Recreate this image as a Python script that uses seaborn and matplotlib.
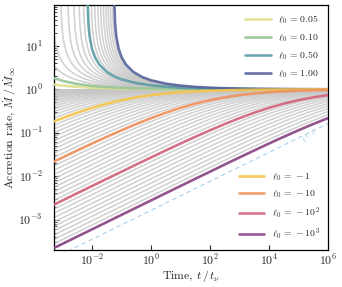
import numpy as np
import pandas as pd
import matplotlib
matplotlib.use("Agg")
import matplotlib.pyplot as plt
import seaborn as sns
from matplotlib.ticker import LogLocator, NullLocator

# ---------------- data ----------------
# common time grid (log10 of t / t_nu)
log_t = [-3.3, -3.0, -2.5, -2.0, -1.5, -1.0, -0.5, 0.0, 0.5, 1.0,
         1.5, 2.0, 2.5, 3.0, 3.5, 4.0, 4.5, 5.0, 5.5, 6.0]

# negative l0 (below 1)
mdot_m1 = [0.181, 0.217, 0.290, 0.375, 0.468, 0.563, 0.654, 0.735, 0.803, 0.857,
           0.898, 0.928, 0.950, 0.965, 0.976, 0.984, 0.989, 0.992, 0.995, 0.996]
mdot_m10 = [0.0216, 0.0270, 0.0392, 0.0565, 0.0808, 0.114, 0.159, 0.217, 0.290, 0.375,
            0.468, 0.563, 0.654, 0.735, 0.803, 0.857, 0.898, 0.928, 0.950, 0.965]
mdot_m100 = [0.00220, 0.00277, 0.00407, 0.00595, 0.00871, 0.0127, 0.0186, 0.0270, 0.0392, 0.0565,
             0.0808, 0.114, 0.159, 0.217, 0.290, 0.375, 0.468, 0.563, 0.654, 0.735]
mdot_m1000 = [0.000221, 0.000278, 0.000408, 0.000598, 0.000878, 0.00129, 0.00189, 0.00277, 0.00407, 0.00595,
              0.00871, 0.0127, 0.0186, 0.0270, 0.0392, 0.0565, 0.0808, 0.114, 0.159, 0.217]

# small positive l0 (slightly above 1)
mdot_p005 = [1.293, 1.220, 1.140, 1.091, 1.060, 1.040, 1.027, 1.018, 1.0124, 1.0084,
             1.0057, 1.0039, 1.0026, 1.0018, 1.0012, 1.0008, 1.0006, 1.0004, 1.0003, 1.0002]
mdot_p010 = [1.829, 1.5625, 1.325, 1.2005, 1.128, 1.084, 1.0557, 1.0373, 1.0251, 1.0170,
             1.0115, 1.0078, 1.0053, 1.0036, 1.0025, 1.0017, 1.0011, 1.0008, 1.0005, 1.0004]

# larger positive l0 (diverge at early time)
log_t_p050 = [-2.16, -2.15, -2.12, -2.08, -2.0, -1.9, -1.75, -1.5, -1.25, -1.0,
              -0.5, 0.0, 0.5, 1.0, 1.5, 2.0, 3.0, 4.0, 5.0, 6.0]
mdot_p050 = [345, 95.5, 30.2, 16.0, 8.47, 5.46, 3.68, 2.505, 1.984, 1.693,
             1.387, 1.2346, 1.1486, 1.0967, 1.0639, 1.0427, 1.0194, 1.0089, 1.0041, 1.0019]
log_t_p100 = [-1.26, -1.25, -1.22, -1.18, -1.1, -1.0, -0.85, -0.6, -0.3, 0.0,
              0.5, 1.0, 1.5, 2.0, 2.5, 3.0, 4.0, 5.0, 6.0]
mdot_p100 = [2000, 122, 32.7, 16.7, 8.61, 5.51, 3.70, 2.514, 1.917, 1.613,
             1.349, 1.214, 1.1366, 1.0892, 1.0591, 1.0395, 1.0180, 1.0083, 1.0038]

# t^{1/3} guide line endpoints
guide_log_t = [-3.3, 6.0]
guide_mdot = [1.3e-4, 0.164]

# background family of l0 values (grey curves)
gray_l0_neg = [-10 ** (k / 10) for k in range(-20, 31)]
gray_l0_pos = [0.15, 0.20, 0.25, 0.30, 0.35, 0.40, 0.45, 0.55, 0.60, 0.65, 0.70,
               0.75, 0.80, 0.85, 0.90, 0.95]
coef_neg, coef_pos = 0.36, 0.38   # Mdot = 1 / (1 - c * l0 * t^(-1/3))

pos_labels = [r"$\ell_0\,=\,0.05$", r"$\ell_0\,=\,0.10$", r"$\ell_0\,=\,0.50$", r"$\ell_0\,=\,1.00$"]
neg_labels = [r"$\ell_0\,=\,-1$", r"$\ell_0\,=\,-10$", r"$\ell_0\,=\,-10^2$", r"$\ell_0\,=\,-10^3$"]
pos_colors = ["#dfe08c", "#97c49a", "#5c9ca3", "#56639c"]
neg_colors = ["#f6c64a", "#f0925e", "#d2647e", "#8c4585"]

# ---------------- style ----------------
sns.set_theme(style="ticks")
plt.rcParams.update({
    "font.family": "serif",
    "font.serif": ["cmr10", "DejaVu Serif"],
    "mathtext.fontset": "cm",
    "axes.unicode_minus": False,
    "axes.formatter.use_mathtext": True,
    "font.size": 8.5,
    "xtick.direction": "in",
    "ytick.direction": "in",
    "xtick.labelsize": 8.5,
    "ytick.labelsize": 8.5,
    "axes.linewidth": 0.9,
    "axes.edgecolor": "black",
})

fig = plt.figure(figsize=(3.42, 2.87), dpi=100)
ax = fig.add_axes([0.158, 0.129, 0.801, 0.854])
ax.set_xscale("log")
ax.set_yscale("log")

# grey background curves
tt = np.logspace(-3.3, 6.0, 1500)
for l0 in gray_l0_neg:
    y = 1.0 / (1.0 - coef_neg * l0 * tt ** (-1 / 3))
    sns.lineplot(x=tt, y=y, ax=ax, color="#c6c6c6", lw=1.15, alpha=0.8, zorder=1)
for l0 in gray_l0_pos:
    d = 1.0 - coef_pos * l0 * tt ** (-1 / 3)
    y = np.where(d > 0, 1.0 / np.where(d > 0, d, 1), np.nan)
    sns.lineplot(x=tt, y=y, ax=ax, color="#c6c6c6", lw=1.15, alpha=0.8, zorder=1)

# guide line
sns.lineplot(x=10 ** np.array(guide_log_t), y=guide_mdot, ax=ax, color="#a9d0ec",
             lw=0.8, linestyle=(0, (4, 3)), zorder=2)
ax.text(10 ** 5.37, 0.08, r"$t^{1/3}$", color="#a9d0ec", fontsize=7,
        rotation=28, ha="center", va="center")

lt = 10 ** np.array(log_t)
pos_series = [(lt, mdot_p005), (lt, mdot_p010),
              (10 ** np.array(log_t_p050), mdot_p050), (10 ** np.array(log_t_p100), mdot_p100)]
neg_series = [(lt, mdot_m1), (lt, mdot_m10), (lt, mdot_m100), (lt, mdot_m1000)]

pos_handles, neg_handles = [], []
for (x, y), c in zip(pos_series, pos_colors):
    sns.lineplot(x=x, y=y, ax=ax, color=c, lw=1.9, alpha=0.9, zorder=3)
    pos_handles.append(plt.Line2D([], [], color=c, lw=1.9, alpha=0.9))
for (x, y), c in zip(neg_series, neg_colors):
    sns.lineplot(x=x, y=y, ax=ax, color=c, lw=1.9, alpha=0.9, zorder=3)
    neg_handles.append(plt.Line2D([], [], color=c, lw=1.9, alpha=0.9))

ax.set_xlim(10 ** -3.29, 1e6)
ax.set_ylim(2.0e-4, 88)

ax.set_xticks([1e-2, 1, 1e2, 1e4, 1e6])
ax.xaxis.set_minor_locator(NullLocator())
ax.yaxis.set_minor_locator(LogLocator(base=10, subs=np.arange(2, 10), numticks=20))
ax.tick_params(which="both", top=False, right=False, direction="in")
ax.tick_params(which="major", length=3.5, width=0.8)
ax.tick_params(which="minor", length=2, width=0.6)
ax.tick_params(axis="x", which="major", pad=2.5)
ax.tick_params(axis="y", which="major", pad=8)

ax.set_xlabel(r"Time, $t\,/\,t_\nu$", fontsize=8.5)
ax.set_ylabel(r"Accretion rate, $\dot{M}\,/\,\dot{M}_\infty$", fontsize=8.5)
ax.xaxis.set_label_coords(0.5, -0.075)
ax.yaxis.set_label_coords(-0.127, 0.5)

leg1 = ax.legend(pos_handles, pos_labels, loc="upper right", frameon=False, fontsize=7,
                 handlelength=2.6, handletextpad=0.8, labelspacing=0.6,
                 borderaxespad=0.5)
ax.add_artist(leg1)
ax.legend(neg_handles, neg_labels, loc="lower right", frameon=False, fontsize=7,
          handlelength=2.6, handletextpad=0.8, labelspacing=0.6, borderaxespad=0.4)

fig.savefig("out.png", dpi=100)
